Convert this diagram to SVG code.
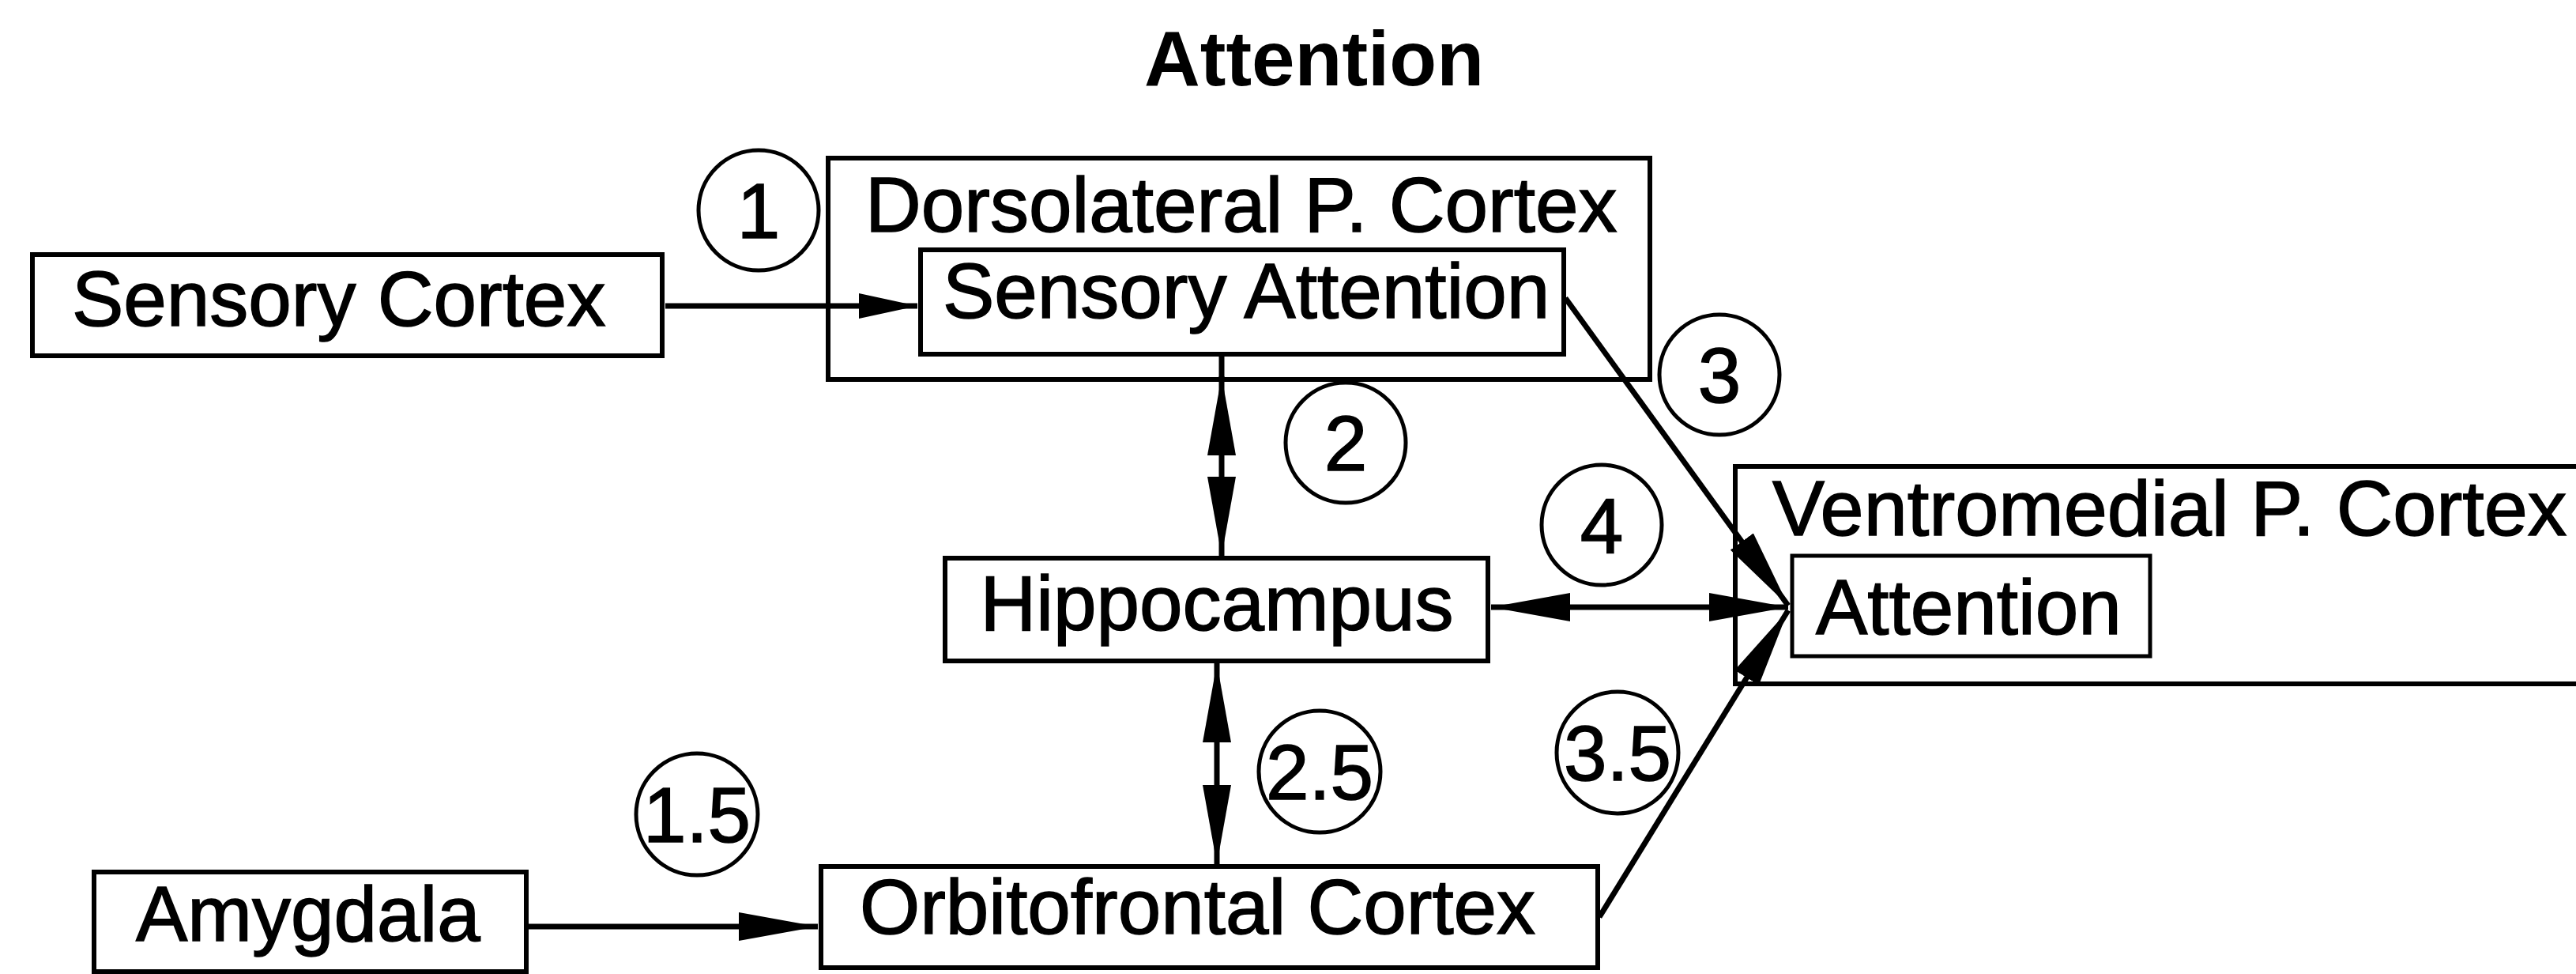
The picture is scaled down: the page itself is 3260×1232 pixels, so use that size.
<svg xmlns="http://www.w3.org/2000/svg" width="3260" height="1232" viewBox="0 0 3260 1232">
<style>
  .box { fill: #ffffff; stroke: #000000; stroke-width: 6; }
  .inner { fill: #ffffff; stroke: #000000; stroke-width: 5; }
  .lbl { font-family: "Liberation Sans", Arial, sans-serif; font-size: 98px; fill: #000000; stroke: #000000; stroke-width: 1.5; }
  .title { font-family: "Liberation Sans", Arial, sans-serif; font-size: 98px; font-weight: bold; fill: #000000; }
  .num { font-family: "Liberation Sans", Arial, sans-serif; font-size: 98px; fill: #000000; stroke: #000000; stroke-width: 1.5; text-anchor: middle; }
  .circ { fill: none; stroke: #000000; stroke-width: 5; }
  .wire { fill: none; stroke: #000000; stroke-width: 7; }
</style>
<defs>
  <marker id="ah" viewBox="0 0 100 36" refX="100" refY="18" markerWidth="100" markerHeight="36" markerUnits="userSpaceOnUse" orient="auto-start-reverse">
    <path d="M0,0 L100,18 L0,36 Z" fill="#000000"/>
  </marker>
  <marker id="ahs" viewBox="0 0 74 32" refX="74" refY="16" markerWidth="74" markerHeight="32" markerUnits="userSpaceOnUse" orient="auto-start-reverse">
    <path d="M0,0 L74,16 L0,32 Z" fill="#000000"/>
  </marker>
</defs>
<rect width="3260" height="1232" fill="#ffffff"/>

<text class="title" x="1663" y="108" text-anchor="middle">Attention</text>

<g id="node-sensory-cortex">
  <rect class="box" x="41" y="322" width="797" height="128"/>
  <text class="lbl" x="91" y="412">Sensory Cortex</text>
</g>

<g id="node-dorsolateral">
  <rect class="box" x="1048" y="200" width="1040" height="280"/>
  <text class="lbl" x="1095" y="293">Dorsolateral P. Cortex</text>
</g>

<g id="node-sensory-attention">
  <rect class="box" x="1165" y="316" width="814" height="132"/>
  <text class="lbl" x="1193" y="402">Sensory Attention</text>
</g>

<g id="node-hippocampus">
  <rect class="box" x="1196" y="706" width="687" height="130"/>
  <text class="lbl" x="1540" y="797" text-anchor="middle">Hippocampus</text>
</g>

<g id="node-ventromedial">
  <rect class="box" x="2196" y="590" width="1120" height="275"/>
  <text class="lbl" x="2243" y="677" style="font-size:99px">Ventromedial P. Cortex</text>
</g>

<g id="node-vm-attention">
  <rect class="inner" x="2268" y="703" width="453" height="127"/>
  <text class="lbl" x="2298" y="802">Attention</text>
</g>

<g id="node-amygdala">
  <rect class="box" x="119" y="1103" width="547" height="126"/>
  <text class="lbl" x="172" y="1190">Amygdala</text>
</g>

<g id="node-orbitofrontal">
  <rect class="box" x="1039" y="1096" width="983" height="128"/>
  <text class="lbl" x="1088" y="1181">Orbitofrontal Cortex</text>
</g>

<g id="connectors">
  <line class="wire" x1="842" y1="387" x2="1161" y2="387" marker-end="url(#ahs)"/>
  <line class="wire" x1="1546" y1="448" x2="1546" y2="478"/>
  <line class="wire" x1="1546" y1="476" x2="1546" y2="703" marker-start="url(#ah)" marker-end="url(#ah)"/>
  <line class="wire" x1="1540" y1="839" x2="1540" y2="1093" marker-start="url(#ah)" marker-end="url(#ah)"/>
  <line class="wire" x1="1887" y1="768" x2="2263" y2="768" marker-start="url(#ah)" marker-end="url(#ah)"/>
  <line class="wire" x1="1981" y1="377" x2="2263" y2="766" marker-end="url(#ah)"/>
  <line class="wire" x1="2024" y1="1160" x2="2263" y2="772" marker-end="url(#ah)"/>
  <line class="wire" x1="668" y1="1172" x2="1035" y2="1172" marker-end="url(#ah)"/>
</g>

<g id="labels">
  <circle class="circ" cx="960" cy="266" r="76"/>
  <text class="num" x="960" y="301">1</text>
  <circle class="circ" cx="1703" cy="560" r="76"/>
  <text class="num" x="1703" y="595">2</text>
  <circle class="circ" cx="2176" cy="474" r="76"/>
  <text class="num" x="2176" y="509">3</text>
  <circle class="circ" cx="2027" cy="664" r="76"/>
  <text class="num" x="2027" y="699">4</text>
  <circle class="circ" cx="882" cy="1030" r="77"/>
  <text class="num" x="882" y="1065">1.5</text>
  <circle class="circ" cx="1670" cy="976" r="77"/>
  <text class="num" x="1670" y="1011">2.5</text>
  <circle class="circ" cx="2047" cy="952" r="77"/>
  <text class="num" x="2047" y="987">3.5</text>
</g>
</svg>
